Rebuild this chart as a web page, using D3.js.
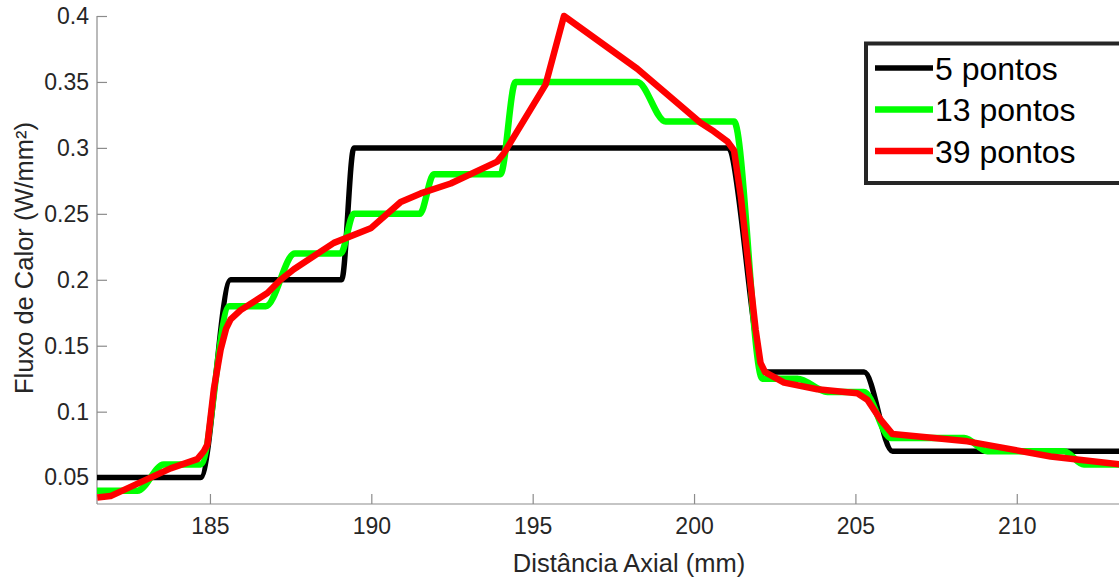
<!DOCTYPE html>
<html>
<head>
<meta charset="utf-8">
<script src="https://cdn.jsdelivr.net/npm/d3@7"></script>
<style>
  html, body { margin: 0; padding: 0; background: #fff; }
  svg { display: block; font-family: "Liberation Sans", Arial, Helvetica, sans-serif; }
</style>
</head>
<body>
<svg id="chart" width="1119" height="578"></svg>
<script>
// ---- data ----
const xTicks = [185, 190, 195, 200, 205, 210];
const yTicks = [0.05, 0.1, 0.15, 0.2, 0.25, 0.3, 0.35, 0.4];
const yTickLabels = ["0.05", "0.1", "0.15", "0.2", "0.25", "0.3", "0.35", "0.4"];

const seriesNames = ["5 pontos", "13 pontos", "39 pontos"];

const x5 = [181.5, 184.71, 185.64, 189.08, 189.46, 201.03, 202.2, 205.27, 206.15, 214.5];
const y5 = [0.05, 0.05, 0.2, 0.2, 0.3, 0.3, 0.13, 0.13, 0.07, 0.07];

const x13 = [181.5, 182.75, 183.57, 184.71, 185.6, 186.73, 187.63, 189.05, 189.46, 191.5, 191.94, 194.0,
             194.47, 198.24, 199.12, 201.24, 202.12, 203.2, 204.13, 205.26, 206.1, 208.37, 209.09, 211.46, 212.08, 214.5];
const y13 = [0.04, 0.04, 0.06, 0.06, 0.18, 0.18, 0.22, 0.22, 0.25, 0.25, 0.28, 0.28,
             0.35, 0.35, 0.32, 0.32, 0.125, 0.125, 0.115, 0.115, 0.08, 0.08, 0.07, 0.07, 0.06, 0.06];

const x39 = [181.51, 181.92, 183.16, 183.78, 184.61, 184.81, 184.92, 185.12, 185.33, 185.5, 185.64, 185.95,
             186.78, 187.19, 187.6, 188.84, 189.98, 190.91, 191.53, 192.46, 193.9, 194.11, 195.4, 195.97,
             198.24, 200.2, 200.62, 201.03, 201.24, 201.45, 201.91, 202.06, 202.2, 202.79, 203.82, 205.06,
             205.37, 205.78, 206.15, 207.44, 208.47, 211.05, 213.19, 214.5];
const y39 = [0.035, 0.036, 0.05, 0.057, 0.064, 0.07, 0.075, 0.117, 0.147, 0.163, 0.17, 0.177,
             0.19, 0.2, 0.208, 0.228, 0.239, 0.259, 0.2655, 0.273, 0.2896, 0.296, 0.348, 0.40,
             0.36, 0.319, 0.3124, 0.305, 0.298, 0.263, 0.162, 0.137, 0.13, 0.122, 0.117, 0.114,
             0.109, 0.094, 0.083, 0.08, 0.0775, 0.066, 0.06, 0.057];

const colors = ["#000000", "#00ff00", "#ff0000"];
const widths = [5.5, 6.5, 6.5];

// ---- layout ----
const svg = d3.select("#chart");
const mLeft = 97, mRight = 1162, mTop = 16, mBottom = 504;

const x = d3.scaleLinear().domain([181.5, 214.5]).range([mLeft, mRight]);
const y = d3.scaleLinear().domain([0.03, 0.4]).range([mBottom, mTop]);

const axisColor = "#8c8c8c";
const textColor = "#262626";

// axes lines
svg.append("line").attr("x1", mLeft).attr("x2", mRight).attr("y1", mBottom).attr("y2", mBottom)
  .attr("stroke", axisColor).attr("stroke-width", 1.2);
svg.append("line").attr("x1", mLeft).attr("x2", mLeft).attr("y1", mTop).attr("y2", mBottom)
  .attr("stroke", axisColor).attr("stroke-width", 1.2);

// x axis ticks (inward)
const xAxis = d3.axisBottom(x).tickValues(xTicks).tickSize(-10).tickPadding(14).tickFormat(d3.format("d"));
const gx = svg.append("g").attr("transform", `translate(0,${mBottom})`).call(xAxis);
gx.select(".domain").remove();
gx.selectAll(".tick line").attr("stroke", axisColor).attr("stroke-width", 1.2);
gx.selectAll(".tick text").attr("fill", textColor).attr("font-size", 23)
  .attr("font-family", "Liberation Sans, Arial, sans-serif");

// y axis ticks (inward)
const yAxis = d3.axisLeft(y).tickValues(yTicks).tickSize(-10).tickPadding(8)
  .tickFormat((d, i) => yTickLabels[i]);
const gy = svg.append("g").attr("transform", `translate(${mLeft},0)`).call(yAxis);
gy.select(".domain").remove();
gy.selectAll(".tick line").attr("stroke", axisColor).attr("stroke-width", 1.2);
gy.selectAll(".tick text").attr("fill", textColor).attr("font-size", 23)
  .attr("font-family", "Liberation Sans, Arial, sans-serif");

// axis labels
svg.append("text").attr("x", 629).attr("y", 572).attr("text-anchor", "middle")
  .attr("fill", textColor).attr("font-size", 25.5).text("Distância Axial (mm)");
svg.append("text").attr("transform", `translate(33,258) rotate(-90)`).attr("text-anchor", "middle")
  .attr("fill", textColor).attr("font-size", 25.5).text("Fluxo de Calor (W/mm²)");

// lines
const series = [
  { xs: x5, ys: y5, curve: d3.curveMonotoneX },
  { xs: x13, ys: y13, curve: d3.curveMonotoneX },
  { xs: x39, ys: y39, curve: d3.curveLinear }
];
series.forEach((s, i) => {
  const pts = s.xs.map((v, j) => [v, s.ys[j]]);
  const line = d3.line().x(d => x(d[0])).y(d => y(d[1])).curve(s.curve);
  svg.append("path").datum(pts).attr("d", line)
    .attr("fill", "none").attr("stroke", colors[i]).attr("stroke-width", widths[i])
    .attr("stroke-linejoin", "round").attr("stroke-linecap", "butt");
});

// legend
const lg = svg.append("g");
lg.append("rect").attr("x", 866).attr("y", 43.5).attr("width", 300).attr("height", 139.5)
  .attr("fill", "#fff").attr("stroke", "#262626").attr("stroke-width", 4);
const rowsY = [68, 109.5, 151];
seriesNames.forEach((n, i) => {
  lg.append("line").attr("x1", 875).attr("x2", 933).attr("y1", rowsY[i]).attr("y2", rowsY[i])
    .attr("stroke", colors[i]).attr("stroke-width", widths[i]);
  lg.append("text").attr("x", 935).attr("y", rowsY[i] + 11.5).attr("fill", "#000")
    .attr("font-size", 32).text(n);
});
</script>
</body>
</html>
